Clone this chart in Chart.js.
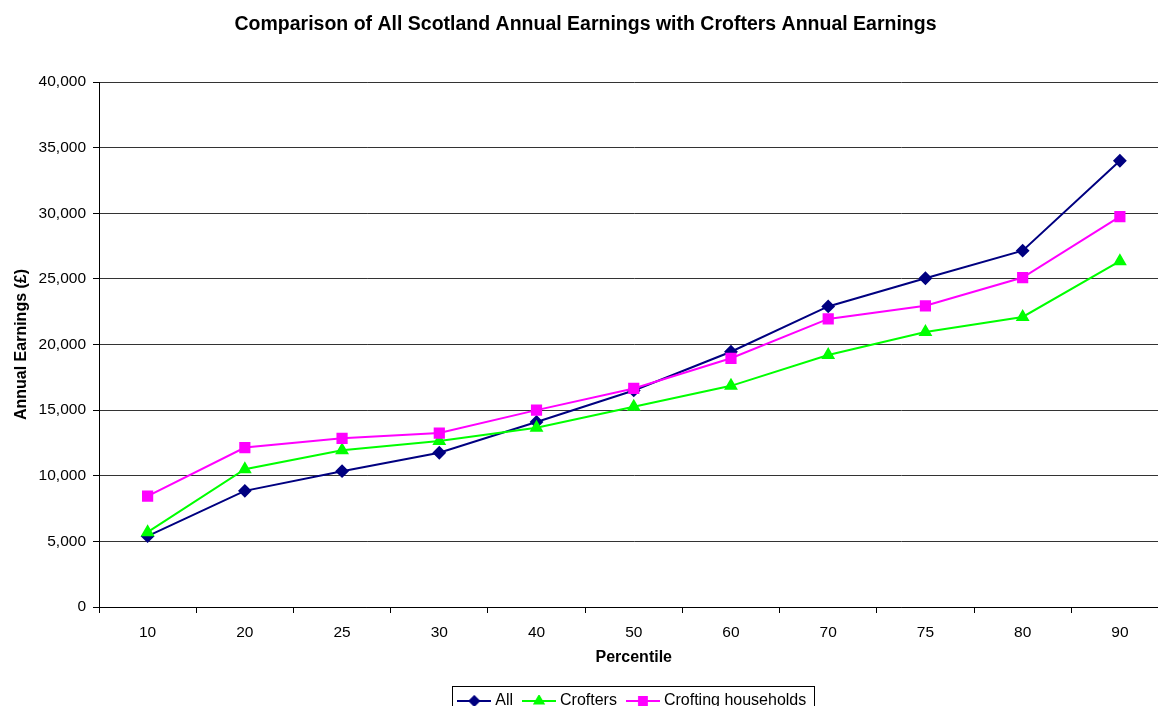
<!DOCTYPE html>
<html>
<head>
<meta charset="utf-8">
<title>Annual Earnings by Percentile</title>
<script src="https://cdn.jsdelivr.net/npm/chart.js@4"></script>
<style>
  html, body { margin: 0; padding: 0; background: #fff; overflow: hidden; }
  #wrap { width: 1177px; height: 719px; position: relative; }
</style>
</head>
<body>
<div id="wrap"><canvas id="mychart"></canvas></div>
<script>
// percentile points and earnings (£) per group
const percentiles = ['10', '20', '25', '30', '40', '50', '60', '70', '75', '80', '90'];
const allEarnings = [5400, 8850, 10350, 11750, 14100, 16500, 19450, 22900, 25050, 27150, 34000];
const crofters = [5700, 10500, 11950, 12650, 13650, 15250, 16850, 19200, 20950, 22100, 26350];
const croftingHouseholds = [8450, 12150, 12850, 13250, 15000, 16650, 18950, 21950, 22950, 25100, 29750];

const seriesNames = ['All', 'Crofters', 'Crofting households'];
const yMin = 0, yMax = 40000, yStep = 5000;

const FONT = '"Liberation Sans", Arial, sans-serif';
Chart.defaults.font.family = FONT;
Chart.defaults.color = '#000';

// little line-with-marker picture for each legend entry
function legendIcon(ds) {
    const c = document.createElement('canvas');
    c.width = 34; c.height = 12;
    const g = c.getContext('2d');
    g.strokeStyle = ds.borderColor;
    g.lineWidth = 2;
    g.beginPath();
    g.moveTo(0, 6); g.lineTo(34, 6);
    g.stroke();
    g.fillStyle = ds.pointBackgroundColor;
    g.strokeStyle = ds.pointBorderColor;
    Chart.helpers.drawPoint(g, {
        pointStyle: ds.pointStyle,
        radius: ds.pointRadius * 0.85,
        rotation: 0,
        borderWidth: 1
    }, 17, 6);
    return c;
}

// box round the legend
const legendBorder = {
    id: 'legendBorder',
    afterDraw(chart) {
        const hb = chart.legend.legendHitBoxes;
        if (!hb || !hb.length) return;
        const left = Math.round(hb[0].left - 9);
        const last = hb[hb.length - 1];
        const right = Math.round(last.left + last.width + 8);
        const top = Math.round(chart.legend.top + 6);
        const ctx = chart.ctx;
        ctx.save();
        ctx.strokeStyle = '#000';
        ctx.lineWidth = 1;
        ctx.strokeRect(left + 0.5, top + 0.5, right - left, 40);
        ctx.restore();
    }
};

const ctx = document.getElementById('mychart');

new Chart(ctx, {
    type: 'line',
    data: {
        labels: percentiles,
        datasets: [{
            label: seriesNames[0],
            data: allEarnings,
            borderColor: '#000080',
            backgroundColor: '#000080',
            pointBackgroundColor: '#000080',
            pointBorderColor: '#000080',
            pointStyle: 'rectRot',
            pointRadius: 5.5,
            borderWidth: 2,
            order: 3
        }, {
            label: seriesNames[1],
            data: crofters,
            borderColor: '#00ff00',
            backgroundColor: '#00ff00',
            pointBackgroundColor: '#00ff00',
            pointBorderColor: '#00ff00',
            pointStyle: 'triangle',
            pointRadius: 6,
            borderWidth: 2,
            order: 2
        }, {
            label: seriesNames[2],
            data: croftingHouseholds,
            borderColor: '#ff00ff',
            backgroundColor: '#ff00ff',
            pointBackgroundColor: '#ff00ff',
            pointBorderColor: '#ff00ff',
            pointStyle: 'rect',
            pointRadius: 6.5,
            borderWidth: 2,
            order: 1
        }]
    },
    options: {
        responsive: true,
        maintainAspectRatio: false,
        animation: false,
        layout: { padding: { left: 0, right: 6, top: 0, bottom: 0 } },
        elements: { line: { tension: 0 } },
        plugins: {
            tooltip: { enabled: false },
            title: {
                display: true,
                text: 'Comparison of All Scotland Annual Earnings with Crofters Annual Earnings',
                color: '#000',
                font: { size: 19.5, weight: 'bold' },
                padding: { top: 13.3, bottom: 45.3 }
            },
            legend: {
                position: 'bottom',
                fullSize: false,
                labels: {
                    color: '#000',
                    font: { size: 16 },
                    usePointStyle: true,
                    pointStyleWidth: 26,
                    padding: 13,
                    generateLabels(chart) {
                        const items = Chart.defaults.plugins.legend.labels.generateLabels(chart);
                        items.sort((a, b) => a.datasetIndex - b.datasetIndex);
                        items.forEach(it => {
                            it.pointStyle = legendIcon(chart.data.datasets[it.datasetIndex]);
                        });
                        return items;
                    }
                }
            }
        },
        scales: {
            x: {
                offset: true,
                grid: {
                    offset: true,
                    drawOnChartArea: false,
                    drawTicks: true,
                    tickLength: 6,
                    tickColor: '#000'
                },
                border: { color: '#000', width: 1 },
                ticks: { color: '#000', font: { size: 15.5 }, padding: 10 },
                title: {
                    display: true,
                    text: 'Percentile',
                    color: '#000',
                    font: { size: 16, weight: 'bold' },
                    padding: { top: 0, bottom: 12.4 }
                },
                afterFit(scale) { scale.height = 73; }
            },
            y: {
                min: yMin,
                max: yMax,
                grid: {
                    color: '#333',
                    tickColor: '#000',
                    tickLength: 6
                },
                border: { color: '#000', width: 1 },
                ticks: {
                    stepSize: yStep,
                    color: '#000',
                    font: { size: 15.5 },
                    padding: 7,
                    callback: v => v.toLocaleString('en-US')
                },
                title: {
                    display: true,
                    text: 'Annual Earnings (£)',
                    color: '#000',
                    font: { size: 16, weight: 'bold' },
                    padding: { top: 12, bottom: 0 }
                },
                afterFit(scale) { scale.width = 99; }
            }
        }
    },
    plugins: [legendBorder]
});
</script>
</body>
</html>
